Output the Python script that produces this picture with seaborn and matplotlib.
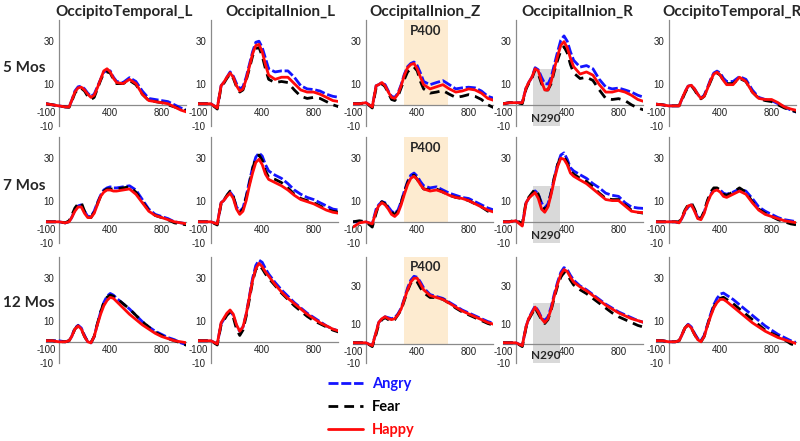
import matplotlib
matplotlib.use("Agg")
import matplotlib.pyplot as plt
import pandas as pd
import seaborn as sns

# sample times (ms) shared by every trace
TIME = [-100, -50, 0, 50, 80, 100, 125, 150, 175, 200, 225, 250, 275, 300, 325,
        350, 375, 400, 425, 450, 500, 550, 600, 650, 700, 750, 800, 850, 900, 950, 1000]

REGIONS = ["OccipitoTemporal_L", "OccipitalInion_L", "OccipitalInion_Z",
           "OccipitalInion_R", "OccipitoTemporal_R"]
AGES = ["5 Mos", "7 Mos", "12 Mos"]
EMOTIONS = ["Angry", "Fear", "Happy"]

# ---- 5 months ----
m5_ot_l = {
    "Angry": [0.5, 0, -0.5, -1, -1, 2, 6.5, 8.5, 8.8, 7.5, 5.5, 4, 5, 8.5, 12, 15.5, 16, 16, 13, 11, 10.5, 12.8, 11, 6.5, 3, 2.5, 2, 1.5, 0, -1.5, -2.5],
    "Fear": [0.5, 0, -0.5, -1, -1.2, 1.5, 5.5, 7.5, 7.8, 6.5, 4, 2.5, 3.5, 7.5, 11.5, 15, 15.5, 15, 12, 10, 10, 11.5, 9.5, 5, 2, 1.5, 1, 0, -1, -2, -3],
    "Happy": [0.5, 0, -0.5, -1, -1, 2, 6, 8, 8.3, 7, 5, 3.5, 4.5, 8, 12, 16, 17, 15.5, 12.5, 10.5, 10, 12, 10, 5, 2, 1.5, 1, 0.5, -1, -2.5, -3.5],
}
m5_oi_l = {
    "Angry": [0.5, 0.5, 0.5, -1.5, 9, 10.5, 13, 15.5, 13.5, 10, 7.5, 8.5, 13, 19, 25, 29.5, 30, 27, 22, 17, 15.5, 16, 16, 13, 9, 7.5, 7.2, 6.5, 5, 4, 3.5],
    "Fear": [0.5, 0.5, 0.5, -2, 8.5, 10, 12.5, 14.5, 12.5, 8.5, 6, 7, 11.5, 17, 23, 26.5, 27, 23, 17, 12, 10.5, 11, 10.5, 7, 4, 3, 3.5, 3, 1.5, 0, -1],
    "Happy": [0.5, 0.5, 0.5, -1.5, 9, 10.5, 13, 15, 13, 9, 6.5, 7.5, 12, 18, 24, 28, 28.5, 25, 19, 14, 12, 13, 13, 10, 7, 6, 6, 5, 3.5, 2, 1.5],
}
m5_oi_z = {
    "Angry": [0.5, 0.5, 1, -1, 9, 9.5, 10.5, 9.5, 6.5, 4, 3.5, 5.5, 9.5, 14.5, 18, 19.5, 20.2, 18.5, 15, 11, 9.5, 10.5, 11.4, 9.5, 7.5, 8, 8.3, 8, 6.5, 4, 3],
    "Fear": [0.5, 0.5, 1, -1.5, 8, 9, 10, 8.5, 5.5, 2.5, 2, 4, 8, 12, 15.5, 17, 17.8, 16, 11, 7.5, 5.5, 6, 6.7, 5, 3.5, 4, 4.8, 4, 2.5, 0, -1.5],
    "Happy": [0.5, 0.5, 1, -1, 9, 9.5, 10.5, 9, 6, 3.5, 3, 5, 9, 14, 17.5, 19, 19.5, 17, 13, 9.5, 7.5, 8.5, 9.5, 7.5, 6, 6.5, 7.5, 7, 5.5, 3, 2],
}
m5_oi_r = {
    "Angry": [0.5, 1, 1, 1, 8, 10.5, 13, 17.5, 16.5, 13, 10, 9.8, 13, 19, 25, 30.5, 32.5, 30, 25, 21, 17.8, 18.5, 17, 12, 8.4, 7.5, 7.9, 7, 6, 4.5, 3.5],
    "Fear": [0.5, 1, 1, 0.5, 7.5, 10, 12.5, 16.5, 14.5, 10, 7, 7, 10, 16, 21, 25.5, 27.4, 24.5, 19, 15, 12.4, 13, 11.5, 7, 3, 2.5, 2.9, 2, 0, -1.5, -2.5],
    "Happy": [0.5, 1, 1, 1, 8, 10.5, 13, 17, 16, 11, 7, 7, 11, 17, 23, 28, 29.8, 27, 22, 18, 14.5, 15.5, 14, 9.5, 6, 6, 6.8, 6, 4.5, 2.5, 1.5],
}
m5_ot_r = {
    "Angry": [0.3, 0, -0.5, -0.5, -0.5, 2.5, 6, 8.8, 9.2, 7.5, 5, 3.2, 4.5, 8, 12, 15, 15.9, 15, 12.5, 11, 11, 13.3, 12, 7, 3.5, 2.5, 2, 0.5, -1, -2.5, -3.6],
    "Fear": [0.3, 0, -0.5, -0.5, -0.5, 2, 5.5, 8.5, 9, 7, 4.5, 2.8, 4, 7.5, 11, 14.5, 15, 14, 11.5, 10, 10, 12.5, 11, 6, 3, 2, 1.5, 0, -1.5, -2.5, -3.5],
    "Happy": [0.3, 0, -0.5, -0.5, -0.5, 2.5, 6, 8.8, 9.2, 7.5, 5, 3, 4, 7.5, 11.5, 14.5, 15.4, 14, 11.5, 9.5, 9.5, 13, 11, 6, 3, 2.5, 2.5, 1, -1, -2, -2.7],
}

# ---- 7 months ----
m7_ot_l = {
    "Angry": [0, 0, 0, -0.5, 0, 2, 5.5, 7.5, 8, 5, 2.5, 2.5, 5, 9, 12.5, 15, 16, 16.5, 16, 16, 16.5, 17, 15, 10.5, 6, 3.5, 2.5, 1.5, 0, -0.5, -1],
    "Fear": [0, 0, 0, -0.5, 0.5, 3, 6.5, 8.5, 9, 5, 2, 2, 4.5, 8.5, 12, 14.5, 15.5, 15.5, 15.5, 15.5, 16, 16.5, 14, 9.5, 5.5, 3, 2, 1, -0.5, -1, -1.5],
    "Happy": [0, 0, 0, -0.5, 0, 2, 5, 7, 7, 4, 2, 2, 4, 8, 12, 14, 15, 15, 14.5, 14.5, 15, 15.5, 13, 9, 5, 3, 2, 1, 0, -0.5, -1],
}
m7_oi_l = {
    "Angry": [0, 0, 0, -1, 9, 10, 12.5, 14, 12, 7, 5, 6.5, 12, 19, 25.5, 30.5, 32.5, 31, 27, 24, 22, 20.5, 18, 15, 13, 11.5, 10.5, 9, 7.5, 6, 5.5],
    "Fear": [0, 0, 0, -1.5, 8.5, 10, 12.5, 14.5, 12, 6.5, 4, 6, 11.5, 18, 25, 30, 31.5, 29, 24, 21, 20, 18.5, 16, 13, 11, 10, 9, 7.5, 6, 5, 4.5],
    "Happy": [0, 0, 0, -1, 9, 10, 12, 13.5, 11, 6, 3.5, 5, 10, 17, 23, 28, 29.5, 27, 22.5, 20, 18.5, 17, 15, 12.5, 10.5, 9.5, 8.5, 7, 5.5, 4.5, 4],
}
m7_oi_z = {
    "Angry": [0, 0, 0, -1, 6, 8, 9.5, 9, 7, 5, 4, 5.5, 9.5, 14.5, 19, 22, 23, 21.5, 19, 17, 16, 16.5, 15, 13.5, 12.5, 11.5, 11, 9.5, 8, 6.5, 5.5],
    "Fear": [0, 0.5, 0, -2.5, 4, 8, 9.5, 8.5, 6.5, 4.5, 3.5, 5, 9, 14, 18.5, 21.5, 22, 20, 17.5, 15.5, 15, 15.5, 14, 12.5, 11.5, 11, 10, 8.5, 7, 5, 4],
    "Happy": [-2.5, -0.5, 0, -1, 5, 7.5, 9, 8, 6, 3.5, 2.5, 4, 8, 13, 17.5, 20.5, 21.5, 20, 17.5, 15.5, 14.5, 15, 14, 12.5, 11.5, 11, 10, 8.5, 7, 5.5, 4.5],
}
m7_oi_r = {
    "Angry": [0, 0, 0.5, -1.5, 9, 11, 13, 14.6, 13, 9, 6.5, 8.5, 14, 21, 27, 31.5, 32.5, 29.5, 25.5, 24, 22.2, 20.5, 18, 16, 13.5, 12.5, 12, 9, 7, 6.5, 6.3],
    "Fear": [0, 0, 1, -1, 9.5, 11.5, 13.5, 15.4, 13, 8, 5.5, 7.5, 14, 21, 27, 30.5, 30.5, 28, 24, 22.5, 20.5, 19, 16.5, 13.5, 11, 10.5, 10.5, 8, 5.5, 4.5, 4],
    "Happy": [0, 0, 0.5, -2, 9, 11, 12.5, 13.8, 11, 6, 4.5, 7, 13, 20, 26, 30, 29.5, 27, 23, 21.5, 19.7, 18, 15.5, 13, 10.5, 10, 10, 7.5, 5, 4.5, 4.3],
}
m7_ot_r = {
    "Angry": [0, 0, 0, 0, -0.5, 1.5, 4.5, 7, 8, 5.5, 2, 1.5, 4.5, 9.5, 13, 15, 15.5, 15, 13.5, 13, 14, 15.5, 14.5, 11, 7, 5, 3.5, 2, 1, 0.5, 0],
    "Fear": [0, 0, 0, 0, 0, 2, 5.5, 8, 9, 6, 2, 1.5, 5, 10, 14, 16, 16, 15, 13, 12.5, 14, 16, 14, 9.5, 6, 4, 2.5, 1, 0, -1, -1.5],
    "Happy": [0, 0, 0, 0, -0.5, 1.5, 5, 7.5, 8, 5, 1.5, 1, 4, 9, 12.5, 14.5, 15, 14, 12, 11.5, 13, 14.5, 13, 9, 5.5, 3.5, 2.5, 1.5, 0.5, 0, -0.5],
}

# ---- 12 months ----
m12_ot_l = {
    "Angry": [0.5, 0.5, 0.5, 0, 0.5, 2.5, 6.5, 7.8, 6.5, 3, 0, -0.5, 2.5, 8.5, 14, 18.5, 21.5, 22.8, 22, 20.5, 18, 15.5, 12.5, 9.5, 7, 5, 3.5, 2, 1, -0.5, -1.5],
    "Fear": [0.5, 0.5, 0, 0, 0.5, 2.5, 6, 7.5, 6, 2.5, 0, -0.5, 2.5, 8.5, 14, 18.5, 21, 22, 21.5, 20.5, 18, 15.5, 12.5, 9.5, 7, 4.5, 3, 1.5, 0.5, -0.5, -1.8],
    "Happy": [0.5, 0.5, 0, 0, 0.5, 2.5, 6, 7.5, 6, 2.5, 0, -0.5, 2.5, 8, 13, 17, 19.5, 21, 20.5, 19, 16, 13, 10.5, 8, 6, 4, 2.5, 1.5, 0.5, 0, -0.5],
}
m12_oi_l = {
    "Angry": [0.5, 0.5, 0.5, -1, 8.5, 10.5, 13, 14.5, 12.5, 7.5, 5, 7, 13, 21.5, 30, 36, 38.5, 37.5, 34.5, 32, 28, 24.5, 21.5, 18.5, 16, 13.5, 11.5, 9.5, 7.5, 6, 5],
    "Fear": [0.5, 0.5, 0.5, -1.5, 8, 10, 12.5, 14, 11.5, 6, 3, 5.5, 12, 20, 28.5, 34, 36, 34.5, 32, 30, 26.5, 23, 20, 17, 14.5, 12, 10, 8.5, 7, 5.5, 4.5],
    "Happy": [0.5, 0.5, 0.5, -1, 9, 11, 13.5, 15, 13, 8, 5, 7, 13, 21, 29, 34.5, 37, 35.5, 33, 31, 27, 23.5, 20.5, 18, 15.5, 13, 11, 9, 7.5, 6, 5],
}
m12_oi_z = {
    "Angry": [0.5, 0.5, 0.5, -1, 6, 11, 13, 14, 13.5, 13, 13.5, 15.5, 18.5, 23.5, 29, 33, 35, 34.5, 32, 29, 25.5, 24.5, 23.5, 21.5, 19.5, 17.5, 16, 14.5, 13, 11.5, 10.5],
    "Fear": [0.5, 0.5, 0.5, -1.5, 5, 10, 12.5, 13.5, 12.5, 12, 12.5, 15, 17.5, 22.5, 27.5, 31.5, 33, 32, 29, 26.5, 24, 24, 23, 21, 18.5, 16.5, 15, 13.5, 12, 10.5, 9.5],
    "Happy": [0.5, 0.5, 0.5, -1, 6, 11, 13, 14, 13, 12.5, 13, 15, 18, 23, 28, 32, 34, 34, 31, 28, 25, 24, 23, 21, 19, 17, 15.5, 14, 12.5, 11, 10],
}
m12_oi_r = {
    "Angry": [0.5, 0.5, 0.5, -1, 9, 13, 16.5, 19.5, 17, 13.5, 12, 14, 19, 26, 32, 37, 39.5, 38.5, 35.5, 33, 30, 28, 25.5, 23, 20.5, 18.5, 16.5, 15, 13.5, 12, 11],
    "Fear": [0.5, 0.5, 0.5, -1.5, 8.5, 12.5, 15.5, 18.5, 15.5, 12.5, 10.5, 12.5, 17.5, 24, 30, 34.5, 37, 36, 33, 30.5, 28, 26, 23.5, 21, 18.5, 16, 14, 12.5, 11, 9.5, 8.5],
    "Happy": [0.5, 0.5, 0.5, -1, 9, 13, 16, 19, 16.5, 13, 11, 13, 18, 25, 31, 36, 38.5, 37.5, 34.5, 32, 29.5, 27.5, 25, 22.5, 20, 18, 16, 14.5, 13, 12, 11],
}
m12_ot_r = {
    "Angry": [0.5, 0.5, 0, 0, 0.5, 3, 6.5, 8.3, 7, 4, 1.5, 0.5, 3, 8, 13, 17.5, 20.5, 22.5, 23, 22, 20, 17.5, 15, 12.5, 10, 7.5, 5.5, 3.5, 2, 0.5, -0.5],
    "Fear": [0.5, 0.5, 0, 0, 0.5, 3, 6.5, 8, 6.5, 3.5, 1, 0, 2.5, 7.5, 12.5, 16.5, 19, 20.5, 21, 20, 18, 15.5, 13, 10.5, 8, 5.5, 4, 2.5, 1, -1, -2],
    "Happy": [0.5, 0.5, 0, 0, 0.5, 3, 6.5, 8, 6.5, 3.5, 1, 0, 2.5, 7.5, 12, 16, 18.5, 20, 20, 19, 16.5, 14, 11.5, 9, 7, 5, 3.5, 2, 1, 0, -1],
}

PANELS = [
    [m5_ot_l, m5_oi_l, m5_oi_z, m5_oi_r, m5_ot_r],
    [m7_ot_l, m7_oi_l, m7_oi_z, m7_oi_r, m7_ot_r],
    [m12_ot_l, m12_oi_l, m12_oi_z, m12_oi_r, m12_ot_r],
]
# upper y limit of each panel (the 12-month inion panels use a taller range)
Y_TOP = [
    [40, 40, 40, 40, 40],
    [40, 40, 40, 40, 40],
    [40, 40, 45, 45, 40],
]
N290_TOP = [17, 17, 21]

COLORS = {"Angry": "#1414ff", "Fear": "#000000", "Happy": "#ff0a0a"}
DASHES = {"Angry": (3.6, 1.0), "Fear": (3.5, 2.2), "Happy": ""}

W, H = 800, 441
COL_LEFT = [46, 198, 353, 503, 656]
ROW_TOP = [20, 137, 257]
AX_W, AX_H = 140, 106
TITLE_X = [124, 280, 425, 577, 732]
ROW_LABEL_Y = [68, 186, 303]

sns.set_style("white")
plt.rcParams["font.family"] = ["Liberation Sans", "DejaVu Sans"]
plt.rcParams["axes.unicode_minus"] = False
BOLD = {"family": "Lato", "weight": "bold"}


def panel_frame(values):
    rows = []
    for emo in EMOTIONS:
        for t, v in zip(TIME, values[emo]):
            rows.append({"time": t, "amp": v, "emotion": emo})
    return pd.DataFrame(rows)


def style_axis(ax, ytop):
    ax.set_xlim(-100, 990)
    ax.set_ylim(-10, ytop)
    ax.spines["left"].set_position(("data", 0))
    ax.spines["bottom"].set_position(("data", 0))
    for side in ["top", "right"]:
        ax.spines[side].set_visible(False)
    for side in ["left", "bottom"]:
        ax.spines[side].set_color("#8a8a8a")
        ax.spines[side].set_linewidth(0.9)
    ax.set_xticks([-100, 400, 800])
    ax.set_yticks([-10, 10, 30])
    ax.tick_params(axis="x", length=0, pad=2, labelsize=7, labelcolor="#222")
    ax.tick_params(axis="y", length=2.5, width=0.8, color="#8a8a8a", pad=1,
                   labelsize=7, labelcolor="#222")
    ax.set_xlabel("")
    ax.set_ylabel("")
    ax.patch.set_alpha(0)


fig = plt.figure(figsize=(W / 100, H / 100), dpi=100)
axes = []
for r, row in enumerate(PANELS):
    for c, values in enumerate(row):
        ytop = Y_TOP[r][c]
        rect = [COL_LEFT[c] / W, 1 - (ROW_TOP[r] + AX_H) / H, AX_W / W, AX_H / H]
        ax = fig.add_axes(rect)
        if c == 2:
            ax.fill_between([300, 640], 0, ytop, color="#fdebd0", lw=0, zorder=0)
            ax.text(465, ytop - 5, "P400", ha="center", va="center", fontsize=9.5, **BOLD)
        if c == 3:
            ax.fill_between([130, 340], -10, N290_TOP[r], color="#d9d9d9", lw=0, zorder=0)
            ax.text(230, -6.3, "N290", ha="center", va="center", fontsize=8.5, **BOLD)
        sns.lineplot(data=panel_frame(values), x="time", y="amp", hue="emotion",
                     style="emotion", hue_order=EMOTIONS, style_order=EMOTIONS,
                     palette=COLORS, dashes=DASHES, linewidth=2, estimator=None,
                     sort=False, legend=False, ax=ax, zorder=3)
        style_axis(ax, ytop)
        axes.append(ax)

for c, name in enumerate(REGIONS):
    fig.text(TITLE_X[c] / W, 1 - 12 / H, name, ha="center", va="center",
             fontsize=11, **BOLD)
for r, age in enumerate(AGES):
    fig.text(3 / W, 1 - ROW_LABEL_Y[r] / H, age, ha="left", va="center",
             fontsize=11, **BOLD)

handles = axes[0].get_lines()[:3]
fig.legend(handles, EMOTIONS, loc="upper left", bbox_to_anchor=(315 / W, 1 - 364 / H),
           frameon=False, handlelength=2.4, handletextpad=0.6, labelspacing=0.62,
           labelcolor="linecolor", prop={"family": "Lato", "weight": "bold", "size": 10.5})

fig.savefig("out.png", dpi=100)
